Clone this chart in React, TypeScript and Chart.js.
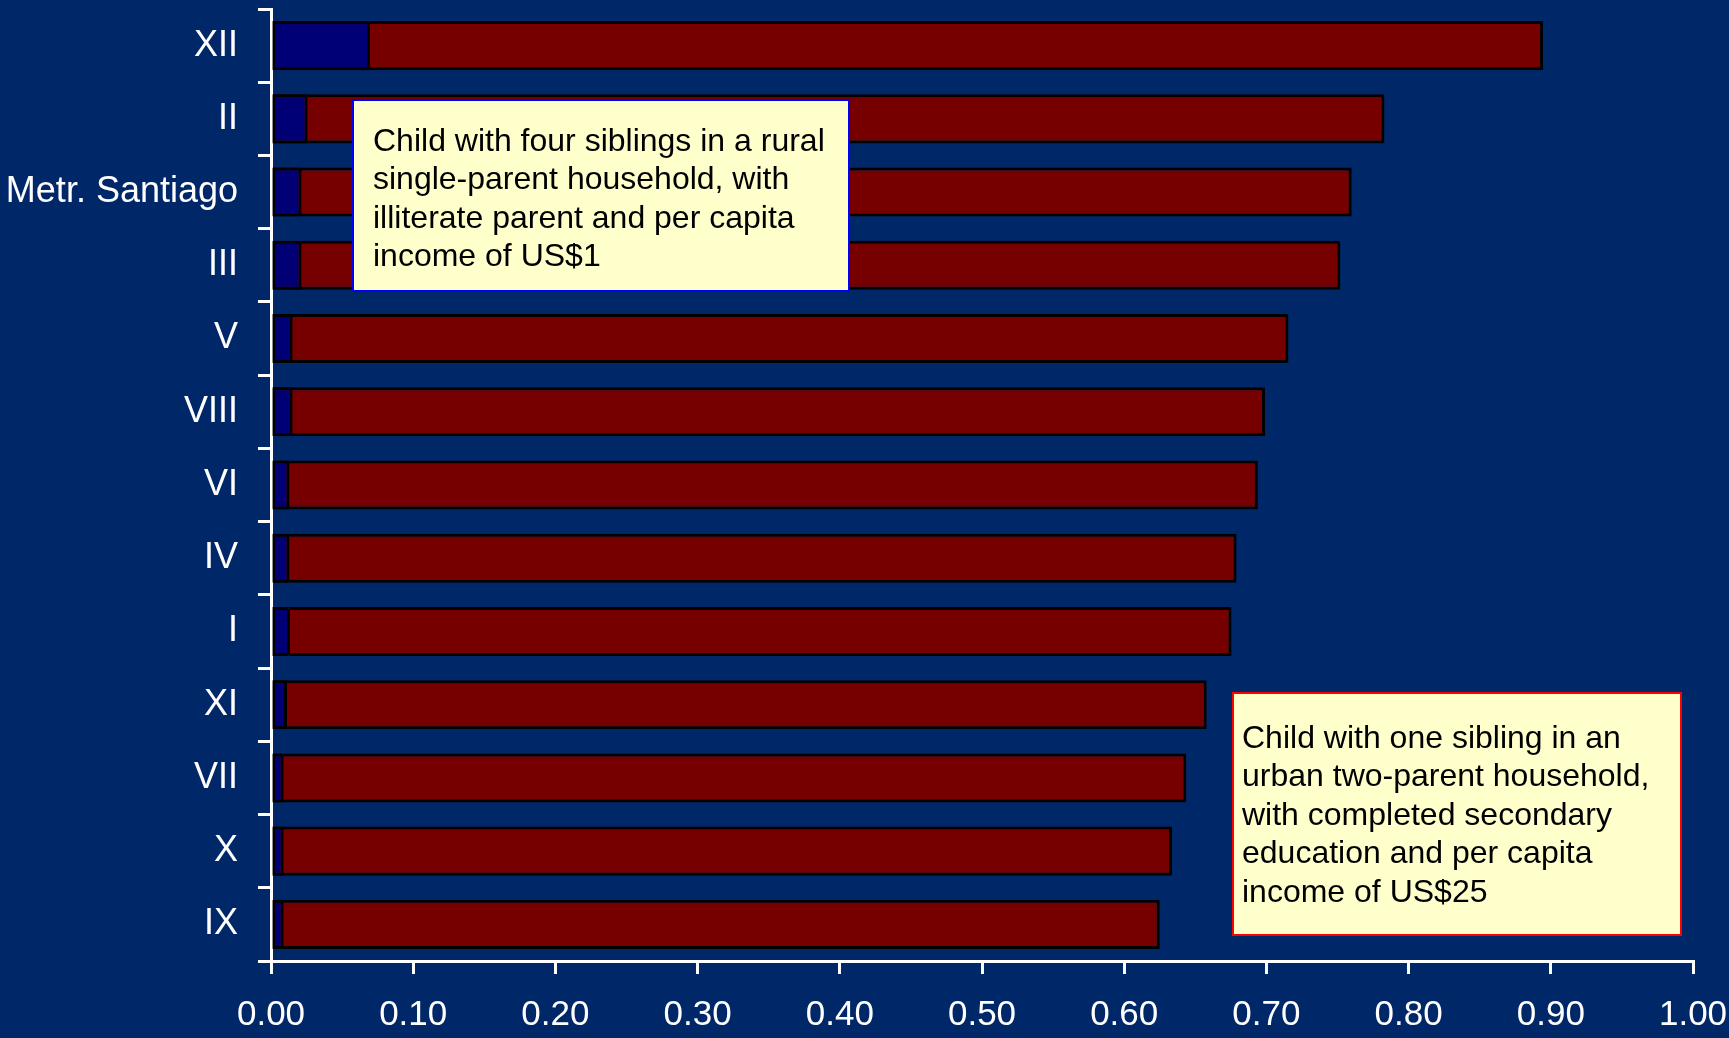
import React, { useEffect, useRef } from "react";
import { Chart, registerables } from "chart.js";

Chart.register(...registerables);

const regions = ["XII", "II", "Metr. Santiago", "III", "V", "VIII", "VI", "IV", "I", "XI", "VII", "X", "IX"];
// Child with four siblings, rural, single-parent, illiterate parent, income US$1
const ruralValues = [0.0697, 0.0258, 0.0215, 0.0215, 0.0152, 0.0152, 0.013, 0.013, 0.0134, 0.0113, 0.0089, 0.0089, 0.0089];
// Child with one sibling, urban, two-parent, completed secondary, income US$25
const urbanValues = [0.8945, 0.783, 0.76, 0.752, 0.7155, 0.699, 0.694, 0.679, 0.6755, 0.658, 0.6437, 0.6336, 0.625];
const xTicks = [0, 0.1, 0.2, 0.3, 0.4, 0.5, 0.6, 0.7, 0.8, 0.9, 1.0];

const ruralNote = [
  "Child with four siblings in a rural",
  "single-parent household, with",
  "illiterate parent and per capita",
  "income of US$1",
];
const urbanNote = [
  "Child with one sibling in an",
  "urban two-parent household,",
  "with completed secondary",
  "education and per capita",
  "income of US$25",
];

const BG = "#002868";
const FONT = "'Liberation Sans', Arial, sans-serif";

const notesPlugin = {
  id: "notes",
  afterDraw(chart: any) {
    const ctx = chart.ctx as CanvasRenderingContext2D;
    const drawBox = (x: number, y: number, w: number, h: number, border: string, lines: string[], tx: number, ty: number) => {
      ctx.save();
      ctx.fillStyle = "#FFFFCC";
      ctx.fillRect(x, y, w, h);
      ctx.lineWidth = 2;
      ctx.strokeStyle = border;
      ctx.strokeRect(x, y, w, h);
      ctx.fillStyle = "#000";
      ctx.font = `32px ${FONT}`;
      ctx.textAlign = "left";
      ctx.textBaseline = "middle";
      lines.forEach((l, i) => ctx.fillText(l, tx, ty + i * 38.5));
      ctx.restore();
    };
    drawBox(353, 100, 496, 191, "#0000FF", ruralNote, 373, 142);
    drawBox(1233, 693, 448, 242, "#FF0000", urbanNote, 1242, 739);
  },
};

const zeroPad = (s: any) => {
  s.paddingTop = 0;
  s.paddingBottom = 0;
  s.paddingLeft = 0;
  s.paddingRight = 0;
};

export default function App() {
  const ref = useRef<HTMLCanvasElement>(null);
  useEffect(() => {
    if (!ref.current) return;
    const chart = new Chart(ref.current, {
      type: "bar",
      data: {
        labels: regions,
        datasets: [
          {
            label: "Rural, four siblings",
            data: ruralValues,
            backgroundColor: "#000074",
            borderColor: "#000000",
            borderWidth: 3,
            borderSkipped: false,
            grouped: false,
            order: 0,
            categoryPercentage: 1,
            barPercentage: 0.67,
          },
          {
            label: "Urban, one sibling",
            data: urbanValues,
            backgroundColor: "#760000",
            borderColor: "#000000",
            borderWidth: 3,
            borderSkipped: false,
            grouped: false,
            order: 1,
            categoryPercentage: 1,
            barPercentage: 0.67,
          },
        ],
      },
      options: {
        indexAxis: "y",
        responsive: false,
        animation: false,
        layout: { padding: { top: 9, right: 36, bottom: 0, left: 0 } },
        plugins: { legend: { display: false }, tooltip: { enabled: false } },
        scales: {
          x: {
            type: "linear",
            min: 0,
            max: 1,
            afterFit: (s: any) => {
              s.height = 77;
              zeroPad(s);
            },
            afterBuildTicks: (s: any) => {
              s.ticks = xTicks.map((v) => ({ value: v }));
            },
            ticks: {
              color: "#FFFFFF",
              font: { family: FONT, size: 35 },
              padding: 20,
              maxRotation: 0,
              autoSkip: false,
              callback: (v: any) => Number(v).toFixed(2),
            },
            grid: { display: true, drawOnChartArea: false, drawTicks: true, tickLength: 13, color: "#FFFFFF", lineWidth: 3 },
            border: { display: true, color: "#FFFFFF", width: 3 },
          },
          y: {
            type: "category",
            offset: true,
            afterFit: (s: any) => {
              s.width = 271;
              zeroPad(s);
            },
            ticks: {
              color: "#FFFFFF",
              font: { family: FONT, size: 36 },
              padding: 20,
              autoSkip: false,
            },
            grid: { display: true, offset: true, drawOnChartArea: false, drawTicks: true, tickLength: 13, color: "#FFFFFF", lineWidth: 3 },
            border: { display: true, color: "#FFFFFF", width: 3 },
          },
        },
      },
      plugins: [notesPlugin],
    } as any);
    return () => chart.destroy();
  }, []);
  return (
    <div style={{ position: "fixed", left: 0, top: 0, width: 1729, height: 1038, background: BG, overflow: "hidden" }}>
      <canvas ref={ref} width={1729} height={1038} style={{ display: "block" }} />
    </div>
  );
}
